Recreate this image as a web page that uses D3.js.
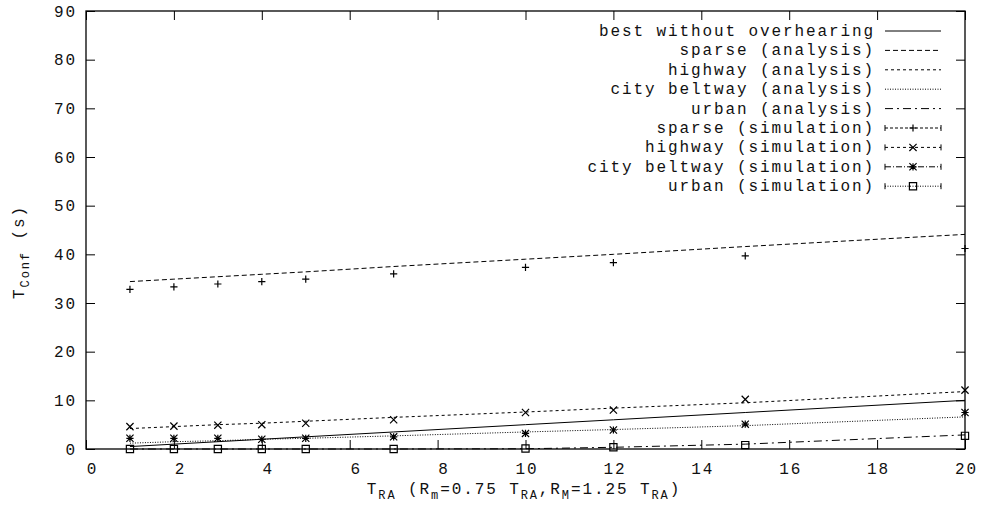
<!DOCTYPE html>
<html>
<head>
<meta charset="utf-8">
<script src="https://cdn.jsdelivr.net/npm/d3@7/dist/d3.min.js"></script>
<style>
  html, body { margin: 0; padding: 0; background: #fff; }
  svg { display: block; }
  text { font-family: "Liberation Mono", "Courier New", monospace; font-size: 16px; letter-spacing: 1.9px; fill: #111; }
</style>
</head>
<body>
<svg id="chart" width="987" height="513"></svg>
<script>
// ---- data ----
const xValues = [1, 2, 3, 4, 5, 7, 10, 12, 15, 20];
const bestNoOverhearing = [0.5, 1.0, 1.5, 2.0, 2.5, 3.5, 5.0, 6.0, 7.5, 10.0];
const sparseAnalysis   = [34.4, 34.9, 35.4, 35.9, 36.4, 37.5, 39.0, 40.0, 41.6, 44.1];
const highwayAnalysis  = [4.2, 4.6, 5.0, 5.3, 5.7, 6.5, 7.6, 8.4, 9.5, 11.8];
const beltwayAnalysis  = [1.2, 1.5, 1.7, 2.0, 2.2, 2.7, 3.5, 4.0, 4.8, 6.6];
const urbanAnalysis    = [0, 0, 0, 0, 0, 0, 0.05, 0.35, 1.0, 2.9];
const sparseSim  = [32.8, 33.3, 33.9, 34.4, 34.9, 36.0, 37.3, 38.3, 39.7, 41.2];
const highwaySim = [4.6, 4.7, 4.9, 5.0, 5.3, 6.0, 7.5, 8.0, 10.2, 12.1];
const beltwaySim = [2.2, 2.2, 2.2, 2.0, 2.2, 2.5, 3.2, 3.9, 5.1, 7.5];
const urbanSim   = [0, 0, 0, 0, 0, 0, 0.1, 0.35, 0.8, 2.7];
const xTicks = [0, 2, 4, 6, 8, 10, 12, 14, 16, 18, 20];
const yTicks = [0, 10, 20, 30, 40, 50, 60, 70, 80, 90];
const legendLabels = [
  "best without overhearing", "sparse (analysis)", "highway (analysis)",
  "city beltway (analysis)", "urban (analysis)", "sparse (simulation)",
  "highway (simulation)", "city beltway (simulation)", "urban (simulation)"
];

// ---- layout ----
const svg = d3.select("#chart");
const L = 86, R = 965, T = 11, B = 449;
const x = d3.scaleLinear().domain([0, 20]).range([L, R]);
const y = d3.scaleLinear().domain([0, 90]).range([B, T]);

// axes (inward ticks, mirrored)
function styleAxis(g) { g.select(".domain").remove(); g.selectAll("line").attr("stroke", "#000"); g.selectAll("text").attr("font-family", null).attr("font-size", null).attr("fill", null); }
const xAxisG = svg.append("g").attr("transform", `translate(0,${B})`)
  .call(d3.axisBottom(x).tickValues(xTicks).tickSize(-9).tickPadding(14).tickFormat(d3.format("d")))
  .call(styleAxis);
xAxisG.selectAll(".tick text").attr("dx", d => (d < 10 ? 6 : 1));
svg.append("g").attr("transform", `translate(0,${T})`)
  .call(d3.axisTop(x).tickValues(xTicks).tickSize(-9).tickFormat(""))
  .call(styleAxis);
svg.append("g").attr("transform", `translate(${L},0)`)
  .call(d3.axisLeft(y).tickValues(yTicks).tickSize(-9).tickPadding(9).tickFormat(d3.format("d")))
  .call(styleAxis);
svg.append("g").attr("transform", `translate(${R},0)`)
  .call(d3.axisRight(y).tickValues(yTicks).tickSize(-9).tickFormat(""))
  .call(styleAxis);

svg.append("rect").attr("x", L).attr("y", T).attr("width", R - L).attr("height", B - T)
  .attr("fill", "none").attr("stroke", "#000").attr("stroke-width", 1.3);

// axis titles
const xt = svg.append("text").attr("x", 524).attr("y", 494).attr("text-anchor", "middle");
xt.append("tspan").text("T");
xt.append("tspan").attr("dy", 5).attr("font-size", 12).text("RA");
xt.append("tspan").attr("dy", -5).text(" (R");
xt.append("tspan").attr("dy", 5).attr("font-size", 12).text("m");
xt.append("tspan").attr("dy", -5).text("=0.75 T");
xt.append("tspan").attr("dy", 5).attr("font-size", 12).text("RA");
xt.append("tspan").attr("dy", -5).text(",R");
xt.append("tspan").attr("dy", 5).attr("font-size", 12).text("M");
xt.append("tspan").attr("dy", -5).text("=1.25 T");
xt.append("tspan").attr("dy", 5).attr("font-size", 12).text("RA");
xt.append("tspan").attr("dy", -5).text(")");

const yt = svg.append("text").attr("transform", "translate(24,252) rotate(-90)").attr("text-anchor", "middle");
yt.append("tspan").text("T");
yt.append("tspan").attr("dy", 5).attr("font-size", 12).text("Conf");
yt.append("tspan").attr("dy", -5).text(" (s)");

// analysis lines
const analysis = [
  { vals: bestNoOverhearing, dash: null },
  { vals: sparseAnalysis, dash: "5,3" },
  { vals: highwayAnalysis, dash: "3,3" },
  { vals: beltwayAnalysis, dash: "1,1.5" },
  { vals: urbanAnalysis, dash: "8,4,2,4" }
];
const line = d3.line().x((d, i) => x(xValues[i])).y(d => y(d));
analysis.forEach(s => {
  svg.append("path").datum(s.vals).attr("d", line)
    .attr("fill", "none").attr("stroke", "#000").attr("stroke-width", 1)
    .attr("stroke-dasharray", s.dash);
});

// point symbols
function drawSymbol(g, kind, cx, cy) {
  const h = 3.6;
  const p = g.append("path").attr("fill", "none").attr("stroke", "#000").attr("stroke-width", 1.2);
  if (kind === "plus") p.attr("d", `M${cx-h},${cy}H${cx+h}M${cx},${cy-h}V${cy+h}`);
  else if (kind === "cross") p.attr("d", `M${cx-h},${cy-h}L${cx+h},${cy+h}M${cx-h},${cy+h}L${cx+h},${cy-h}`);
  else if (kind === "star") p.attr("d", `M${cx-h},${cy}H${cx+h}M${cx},${cy-h}V${cy+h}M${cx-h},${cy-h}L${cx+h},${cy+h}M${cx-h},${cy+h}L${cx+h},${cy-h}`);
  else if (kind === "box") p.attr("d", `M${cx-h},${cy-h}H${cx+h}V${cy+h}H${cx-h}Z`);
}
const sims = [
  { vals: sparseSim, kind: "plus", dash: "3,2" },
  { vals: highwaySim, kind: "cross", dash: "3,3" },
  { vals: beltwaySim, kind: "star", dash: "6,2,1,2" },
  { vals: urbanSim, kind: "box", dash: "1,1.5" }
];
sims.forEach(s => {
  const g = svg.append("g");
  s.vals.forEach((v, i) => drawSymbol(g, s.kind, x(xValues[i]), y(v)));
});

// legend
const lg = svg.append("g");
const rowY = i => 31 + i * 19.4;
legendLabels.forEach((lab, i) => {
  lg.append("text").attr("x", 875).attr("y", rowY(i) + 5).attr("text-anchor", "end").text(lab);
});
analysis.forEach((s, i) => {
  lg.append("line").attr("x1", 885).attr("x2", 941).attr("y1", rowY(i)).attr("y2", rowY(i))
    .attr("stroke", "#000").attr("stroke-width", 1).attr("stroke-dasharray", s.dash);
});
sims.forEach((s, j) => {
  const i = j + 5, yy = rowY(i);
  lg.append("line").attr("x1", 885).attr("x2", 941).attr("y1", yy).attr("y2", yy)
    .attr("stroke", "#000").attr("stroke-width", 1).attr("stroke-dasharray", s.dash);
  lg.append("path").attr("d", `M885,${yy-3}V${yy+3}M941,${yy-3}V${yy+3}`).attr("stroke", "#000").attr("stroke-width", 1);
  drawSymbol(lg, s.kind, 913, yy);
});
</script>
</body>
</html>
